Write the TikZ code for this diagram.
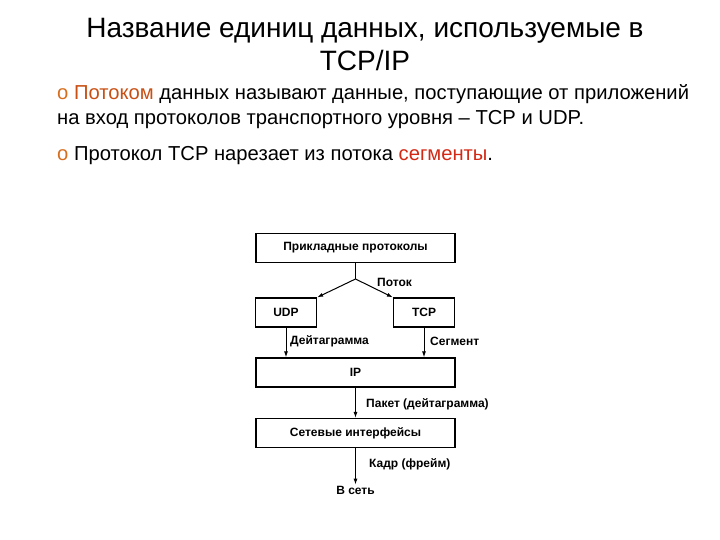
\documentclass[tikz,border=0pt]{standalone}
\usepackage{fontspec}
\setmainfont{Liberation Sans}
\usetikzlibrary{positioning,calc,arrows.meta}
\definecolor{bulletc}{RGB}{214,110,30}
\definecolor{potokc}{RGB}{200,80,20}
\definecolor{segmc}{RGB}{210,40,20}

\begin{document}
\begin{tikzpicture}[x=1pt,y=-1pt,
		layer/.style={draw, line width=1.2pt, minimum width=199pt, minimum height=29pt, inner sep=0pt, font=\bfseries\fontsize{12}{14}\selectfont},
		proto/.style={layer, minimum width=61pt},
		flow/.style={-{Latex[length=6pt,width=4pt]}, line width=1pt},
		unit/.style={anchor=west, inner sep=1pt, font=\bfseries\fontsize{12}{14}\selectfont},
		bullet/.style={anchor=north west, inner sep=0pt, align=left, font=\fontsize{20.2}{25}\selectfont}]
		\useasboundingbox (0,0) rectangle (720,540);
		% heading and text
		\node (title) at (365,45) [align=center, font=\fontsize{28}{33}\selectfont] {Название единиц данных, используемые в\\TCP/IP};
		\node (bul1) [bullet] at (57,84) {\textcolor{bulletc}{o} \textcolor{potokc}{Потоком} данных называют данные, поступающие от приложений\\на вход протоколов транспортного уровня -- TCP и UDP.};
		\node (bul2) [bullet] at (57,146) {\textcolor{bulletc}{o} Протокол TCP нарезает из потока \textcolor{segmc}{сегменты}.};
		% stack
		\node (app) [layer] at (355.5,248) {Прикладные протоколы};
		\node (udp) [proto] at (286,312.5) {UDP};
		\node (tcp) [proto] at (424,312.5) {TCP};
		\node (ip) [layer] at (355.5,372.5) {IP};
		\node (net) [layer] at (355.5,433) {Сетевые интерфейсы};
		\node (out) [inner sep=1pt, font=\bfseries\fontsize{12}{14}\selectfont] at (355.5,490) {В сеть};
		\coordinate (fork) at (355.5,279);
		\draw[line width=1pt] (app) -- (fork);
		\draw[flow] (fork) -- (udp.north east);
		\draw[flow] (fork) -- (tcp.north west);
		\draw[flow] (udp.south) -- (udp.south |- ip.north);
		\draw[flow] (tcp.south) -- (tcp.south |- ip.north);
		\draw[flow] (ip) -- (net);
		\draw[flow] (net) -- (out);
		% unit names
		\node (potok) [unit] at (376,282) {Поток};
		\node (dgram) [unit] at (289,341) {Дейтаграмма};
		\node (segm) [unit] at (429,341) {Сегмент};
		\node (pack) [unit] at (365,404) {Пакет (дейтаграмма)};
		\node (frame) [unit] at (368,464) {Кадр (фрейм)};
\end{tikzpicture}
\end{document}
